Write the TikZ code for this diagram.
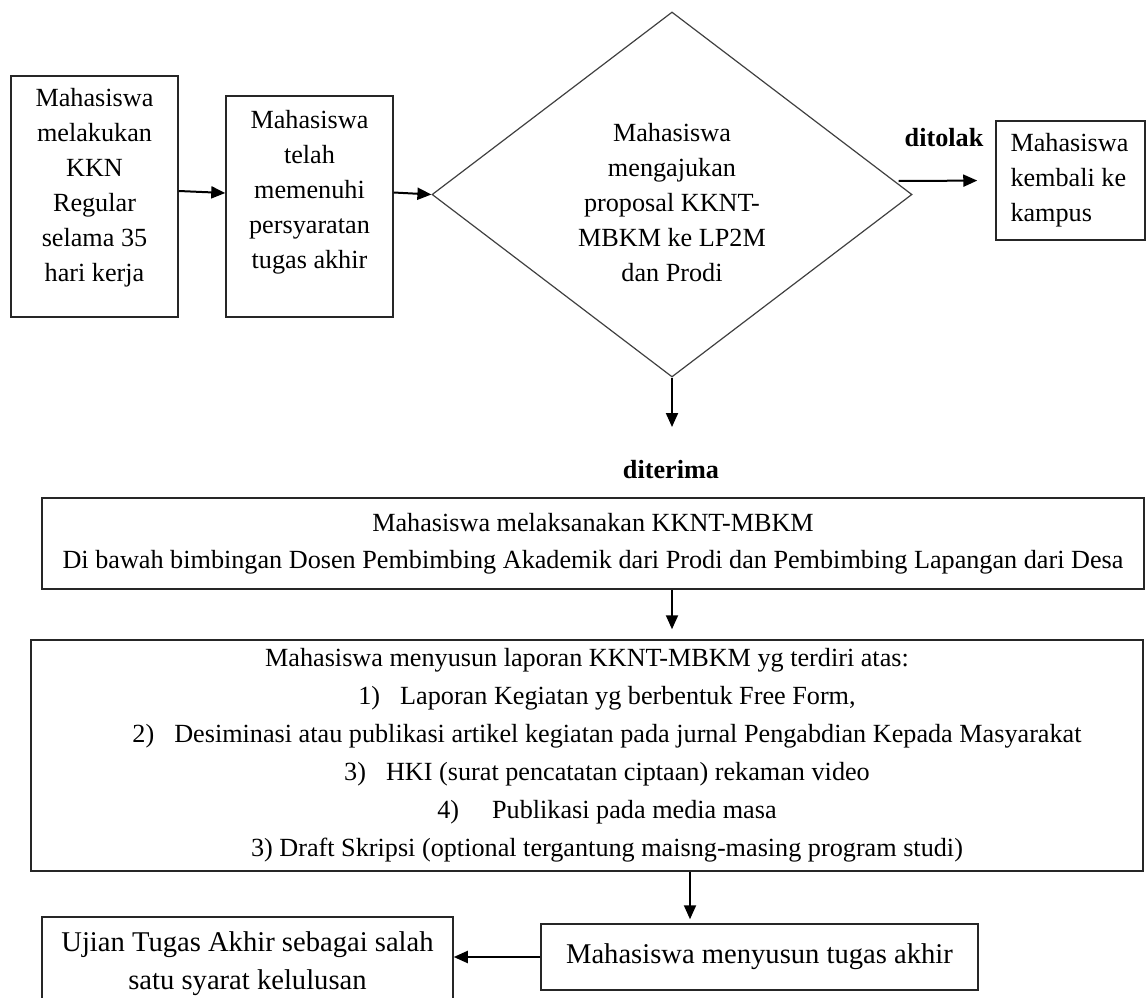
\documentclass[tikz,border=0pt]{standalone}
\usepackage{fontspec}
\setmainfont{Liberation Serif}
\usetikzlibrary{shapes.geometric,arrows.meta}

\begin{document}
\begin{tikzpicture}[x=1pt,y=-1pt,
        kotak/.style={draw=black!85,line width=1.5pt,align=center,font=\fontsize{26.2}{35}\selectfont},
        panah/.style={draw=black,line width=2pt,-{Triangle[length=14pt,width=12pt]}},
        tebal/.style={font=\fontsize{26.2}{35}\selectfont\bfseries}]
                \tikzstyle{every node}+=[inner sep=0pt]
                \clip (0,0) rectangle (1146,998);
                \node [kotak,minimum width=167pt,minimum height=241pt] (kkn) at (94.5,196.5) {Mahasiswa\\melakukan\\KKN\\Regular\\selama 35\\hari kerja\\[-11pt]\mbox{}};
                \node [kotak,minimum width=167pt,minimum height=221pt] (syarat) at (309.5,206.5) {Mahasiswa\\telah\\memenuhi\\persyaratan\\tugas akhir\\[0pt]\mbox{}};
                \node [kotak,diamond,aspect=1.3,draw=black!75,line width=1.2pt,minimum width=480pt,minimum height=365pt] (usul) at (672,194.5) {\mbox{}\\[-1pt]Mahasiswa\\mengajukan\\proposal KKNT-\\MBKM ke LP2M\\dan Prodi};
                \node [kotak,align=flush left,text width=120pt,minimum width=149pt,minimum height=119pt] (kembali) at (1070.5,180.5) {Mahasiswa\\kembali ke\\kampus};
                \node [tebal] (tolak) at (944,138) {ditolak};
                \coordinate (ujung) at (672,427);
                \node [tebal] (terima) at (671,470) {diterima};
                \node [kotak,font=\fontsize{26.2}{37}\selectfont,minimum width=1102pt,minimum height=91pt] (laksana) at (593,543.5) {Mahasiswa melaksanakan KKNT-MBKM\\Di bawah bimbingan Dosen Pembimbing Akademik dari Prodi dan Pembimbing Lapangan dari Desa};
                \node [kotak,font=\fontsize{26.2}{38}\selectfont,minimum width=1112pt,minimum height=231pt] (laporan) at (587,755.5) {Mahasiswa menyusun laporan KKNT-MBKM yg terdiri atas:\\
                    \hspace*{40pt}1)\hspace{20pt}Laporan Kegiatan yg berbentuk Free Form,\\
                    \hspace*{40pt}2)\hspace{20pt}Desiminasi atau publikasi artikel kegiatan pada jurnal Pengabdian Kepada Masyarakat\\
                    \hspace*{40pt}3)\hspace{20pt}HKI (surat pencatatan ciptaan) rekaman video\\
                    \hspace*{40pt}4)\hspace{33pt}Publikasi pada media masa\\
                    \hspace*{40pt}3) Draft Skripsi (optional tergantung maisng-masing program studi)};
                \node [kotak,font=\fontsize{28.6}{38}\selectfont,minimum width=437pt,minimum height=66pt] (susun) at (759.5,957) {Mahasiswa menyusun tugas akhir};
                \node [kotak,font=\fontsize{28.6}{38}\selectfont,minimum width=411pt,minimum height=94pt] (ujian) at (247.5,964) {Ujian Tugas Akhir sebagai salah\\satu syarat kelulusan};
                \draw [panah] ([yshift=5.5pt]kkn.east) -- ([yshift=13.5pt]syarat.west);
                \draw [panah] ([yshift=14pt]syarat.east) -- (usul.west);
                \draw [panah,shorten >=18pt] ([xshift=-14pt,yshift=13.5pt]usul.east) -- (kembali.west);
                \draw [panah] (usul.south) -- (ujung);
                \draw [panah,shorten >=10pt] (laksana.south -| usul.south) -- (laporan.north -| usul.south);
                \draw [panah,shorten >=4pt] ([xshift=-69.5pt]susun.north |- laporan.south) -- ([xshift=-69.5pt]susun.north);
                \draw [panah] (susun.west) -- (susun.west -| ujian.east);
\end{tikzpicture}
\end{document}
